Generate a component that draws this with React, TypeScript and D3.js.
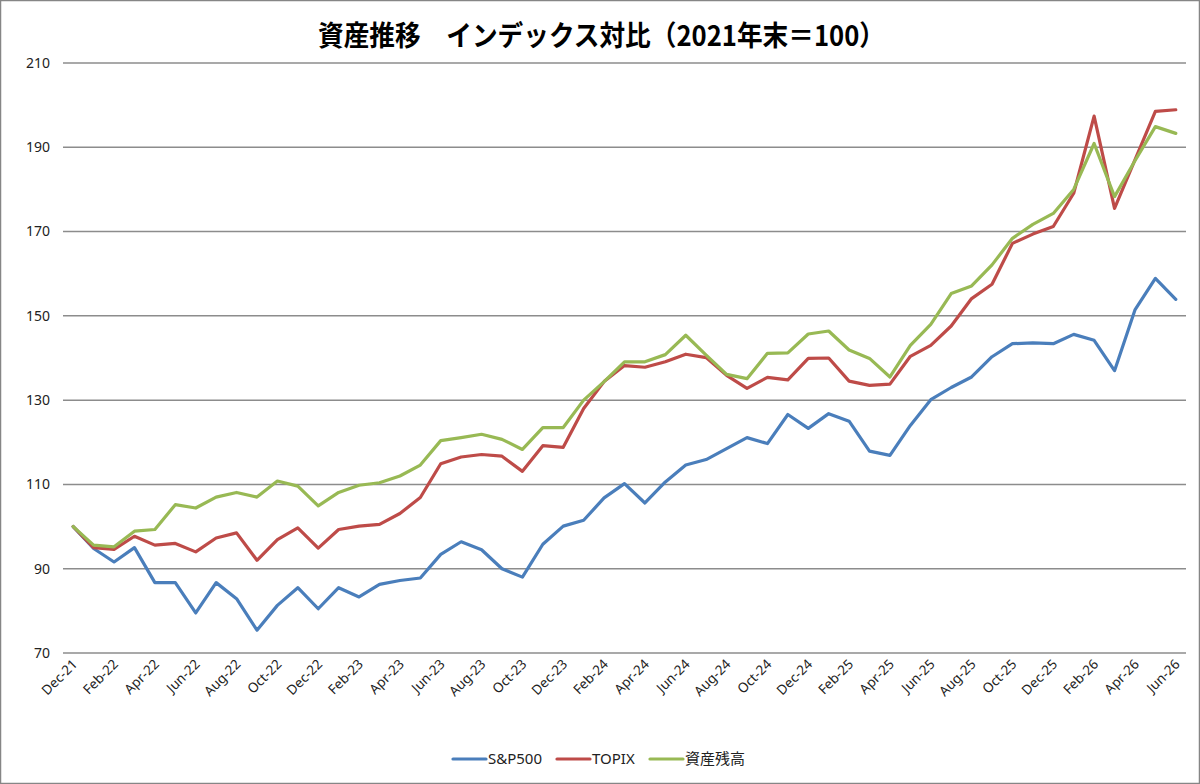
import { scalePoint, scaleLinear, line as d3_line } from "d3";

const months = [
  "Dec-21","Jan-22","Feb-22","Mar-22","Apr-22","May-22","Jun-22","Jul-22","Aug-22","Sep-22","Oct-22","Nov-22",
  "Dec-22","Jan-23","Feb-23","Mar-23","Apr-23","May-23","Jun-23","Jul-23","Aug-23","Sep-23","Oct-23","Nov-23",
  "Dec-23","Jan-24","Feb-24","Mar-24","Apr-24","May-24","Jun-24","Jul-24","Aug-24","Sep-24","Oct-24","Nov-24",
  "Dec-24","Jan-25","Feb-25","Mar-25","Apr-25","May-25","Jun-25","Jul-25","Aug-25","Sep-25","Oct-25","Nov-25",
  "Dec-25","Jan-26","Feb-26","Mar-26","Apr-26","May-26","Jun-26",
];

const sp500 = [
  100, 94.8, 91.6, 95.0, 86.7, 86.7, 79.5, 86.7, 82.9, 75.4, 81.3, 85.5,
  80.5, 85.5, 83.3, 86.3, 87.2, 87.8, 93.4, 96.4, 94.5, 90.0, 88.0, 95.8,
  100.1, 101.5, 106.8, 110.2, 105.6, 110.6, 114.6, 115.9, 118.5, 121.1, 119.7, 126.6,
  123.3, 126.8, 125.0, 117.9, 116.9, 124.0, 130.1, 133.0, 135.5, 140.3, 143.4, 143.6,
  143.4, 145.6, 144.2, 137.0, 151.4, 158.9, 153.9,
];

const topix = [
  100, 95.0, 94.6, 97.7, 95.6, 96.0, 94.0, 97.3, 98.5, 92.0, 96.9, 99.7,
  94.9, 99.3, 100.1, 100.5, 103.1, 106.9, 114.9, 116.5, 117.1, 116.7, 113.1, 119.2,
  118.8, 128.0, 134.4, 138.2, 137.8, 139.1, 140.9, 140.1, 135.9, 132.8, 135.4, 134.8,
  139.9, 140.0, 134.5, 133.5, 133.8, 140.4, 143.0, 147.6, 154.1, 157.5, 167.2, 169.4,
  171.2, 179.1, 197.4, 175.5, 187.0, 198.5, 198.9,
];

const assets = [
  100, 95.6, 95.2, 98.9, 99.3, 105.2, 104.4, 107.0, 108.1, 107.0, 110.8, 109.6,
  104.9, 108.1, 109.8, 110.4, 112.0, 114.6, 120.4, 121.1, 121.9, 120.7, 118.3, 123.5,
  123.5, 130.0, 134.4, 139.1, 139.1, 140.8, 145.4, 140.7, 136.1, 135.1, 141.1, 141.2,
  145.7, 146.4, 141.9, 139.9, 135.5, 143.0, 148.0, 155.3, 157.1, 162.1, 168.4, 171.7,
  174.3, 180.0, 190.9, 178.3, 186.8, 194.9, 193.3,
];

const yTicks = [70, 90, 110, 130, 150, 170, 190, 210];

const series = [
  { name: "S&P500", values: sp500, color: "#4a7ebb" },
  { name: "TOPIX", values: topix, color: "#be4b48" },
  { name: "資産残高", values: assets, color: "#98b954" },
];

const W = 1200;
const H = 784;
const plot = { left: 63, right: 1186, top: 63, bottom: 653 };
const font = "'Noto Sans', 'Noto Sans CJK JP', sans-serif";

export default function App() {
  const x = scalePoint<string>()
    .domain(months)
    .range([plot.left, plot.right])
    .padding(0.5);
  const y = scaleLinear().domain([70, 210]).range([plot.bottom, plot.top]);

  const line = d3_line<number>()
    .x((_, i) => x(months[i]) ?? 0)
    .y((d) => y(d));

  // legend: each entry's slot width, starting so the block sits under the centre
  const legendSlots = [104, 93, 100];
  let lx = 453;
  const legendItems = series.map((s, i) => {
    const pos = lx;
    lx += legendSlots[i];
    return { ...s, pos };
  });

  return (
    <svg
      width={W}
      height={H}
      style={{ position: "absolute", left: 0, top: 0, background: "#fff" }}
      fontFamily={font}
    >
      <rect x={0.5} y={0.5} width={W - 1} height={H - 1} fill="#fff" stroke="#868686" strokeWidth={1.5} />

      <text
        x={318}
        y={46}
        fontSize={28}
        fontWeight="bold"
        fontFamily="'Noto Sans CJK JP', sans-serif"
        fill="#000"
        textLength={567}
        lengthAdjust="spacingAndGlyphs"
      >
        資産推移　インデックス対比（2021年末＝100）
      </text>

      {/* Grid lines + y labels */}
      {yTicks.map((t) => (
        <g key={t}>
          <line x1={plot.left} x2={plot.right} y1={y(t)} y2={y(t)} stroke="#8c8c8c" strokeWidth={1.5} />
          <text x={50} y={y(t)} dy="0.35em" textAnchor="end" fontSize={14} fill="#222">
            {t}
          </text>
        </g>
      ))}

      {/* X labels every second month */}
      {months.map((m, i) =>
        i % 2 === 0 ? (
          <text
            key={m}
            transform={`translate(${(x(m) ?? 0) + 5},${plot.bottom + 12}) rotate(-45)`}
            textAnchor="end"
            fontSize={13.5}
            fill="#222"
          >
            {m}
          </text>
        ) : null
      )}

      {/* Lines */}
      {series.map((s) => (
        <path
          key={s.name}
          d={line(s.values) ?? ""}
          fill="none"
          stroke={s.color}
          strokeWidth={3.2}
          strokeLinejoin="round"
          strokeLinecap="round"
        />
      ))}

      {/* Legend */}
      {legendItems.map((s) => (
        <g key={s.name} transform={`translate(${s.pos},759)`}>
          <line x1={0} x2={33} y1={0} y2={0} stroke={s.color} strokeWidth={3.2} strokeLinecap="round" />
          <text x={35} y={0} dy="0.35em" fontSize={15} fill="#222">
            {s.name}
          </text>
        </g>
      ))}
    </svg>
  );
}
